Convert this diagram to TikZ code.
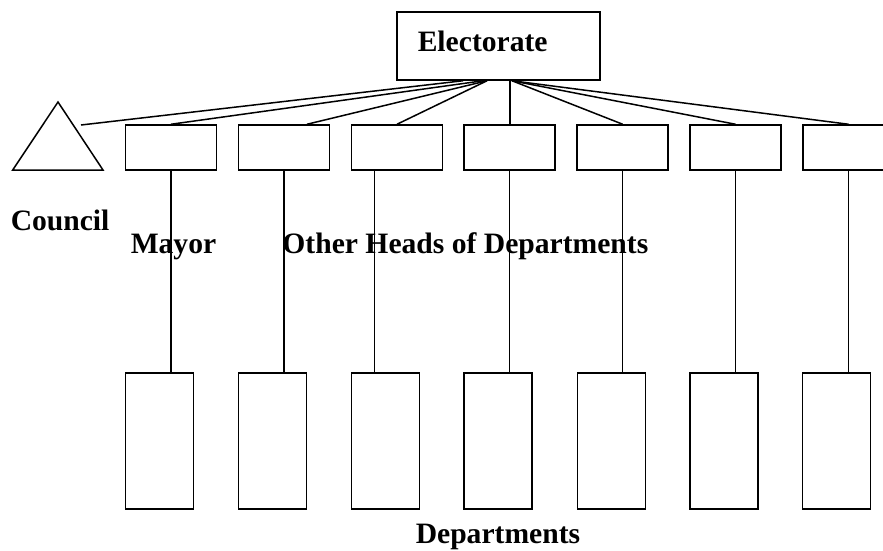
\documentclass[tikz,border=0pt]{standalone}
\usepackage{fontspec}
\setmainfont{Liberation Serif}
\begin{document}
\begin{tikzpicture}[x=1pt,y=-1pt,
  line width=1.5pt,
  topbox/.style={draw,rectangle,minimum width=91pt,minimum height=45pt,inner sep=0pt},
  depbox/.style={draw,rectangle,minimum width=68pt,minimum height=136pt,inner sep=0pt},
  elecbox/.style={draw,rectangle,minimum width=203pt,minimum height=68pt,inner sep=0pt},
  lbl/.style={inner sep=0pt,anchor=base west,font=\bfseries\fontsize{29.6}{34}\selectfont},
  conn/.style={line width=1.5pt}]
\useasboundingbox (0,0) rectangle (883,550);

% Electorate
\node[elecbox] (e) at (498.5,46) {};
\node[lbl] (et) at (417,51.7) {Electorate};

% Council triangle
\coordinate (ta) at (58,102);
\coordinate (tl) at (12.7,170);
\coordinate (tr) at (103,170);
\draw (ta) -- (tl) -- (tr) -- cycle;
\coordinate (cend) at (81,125);

% Heads of departments
\foreach \i/\x in {1/171,2/284,3/397,4/509.7,5/622.7,6/735.5,7/848.5}
  \node[topbox] (u\i) at (\x,147.5) {};

% Departments
\foreach \i/\x in {1/159.7,2/272.7,3/385.7,4/498,5/611.3,6/724,7/836.7}
  \node[depbox] (l\i) at (\x,441) {};

% Electorate connectors
\draw[conn] ([xshift=-35.5pt]e.south) -- (cend);
\draw[conn] ([xshift=-15.5pt]e.south) -- (u1.north);
\draw[conn] ([xshift=-11.5pt]e.south) -- ([xshift=23pt]u2.north);
\draw[conn] ([xshift=-11.5pt]e.south) -- (u3.north);
\draw[conn] ([xshift=11.5pt]e.south) -- ([xshift=11.5pt]e.south |- u4.north);
\draw[conn] ([xshift=13.5pt]e.south) -- (u5.north);
\draw[conn] ([xshift=13.5pt]e.south) -- (u6.north);
\draw[conn] ([xshift=13.5pt]e.south) -- (u7.north);

% Head to department connectors
\foreach \i in {1,2,4,5,6,7}
  \draw[conn] (u\i.south) -- (u\i.south |- l\i.north);
\draw[conn] ([xshift=-22.5pt]u3.south) -- ([xshift=-11.2pt]l3.north);

% Labels
\node[lbl] (council) at (10,230) {Council};
\node[lbl] (mayor) at (130,253.3) {Mayor};
\node[lbl] (others) at (281.7,253.3) {Other Heads of Departments};
\node[lbl] (deps) at (415,543.5) {Departments};
\end{tikzpicture}
\end{document}
